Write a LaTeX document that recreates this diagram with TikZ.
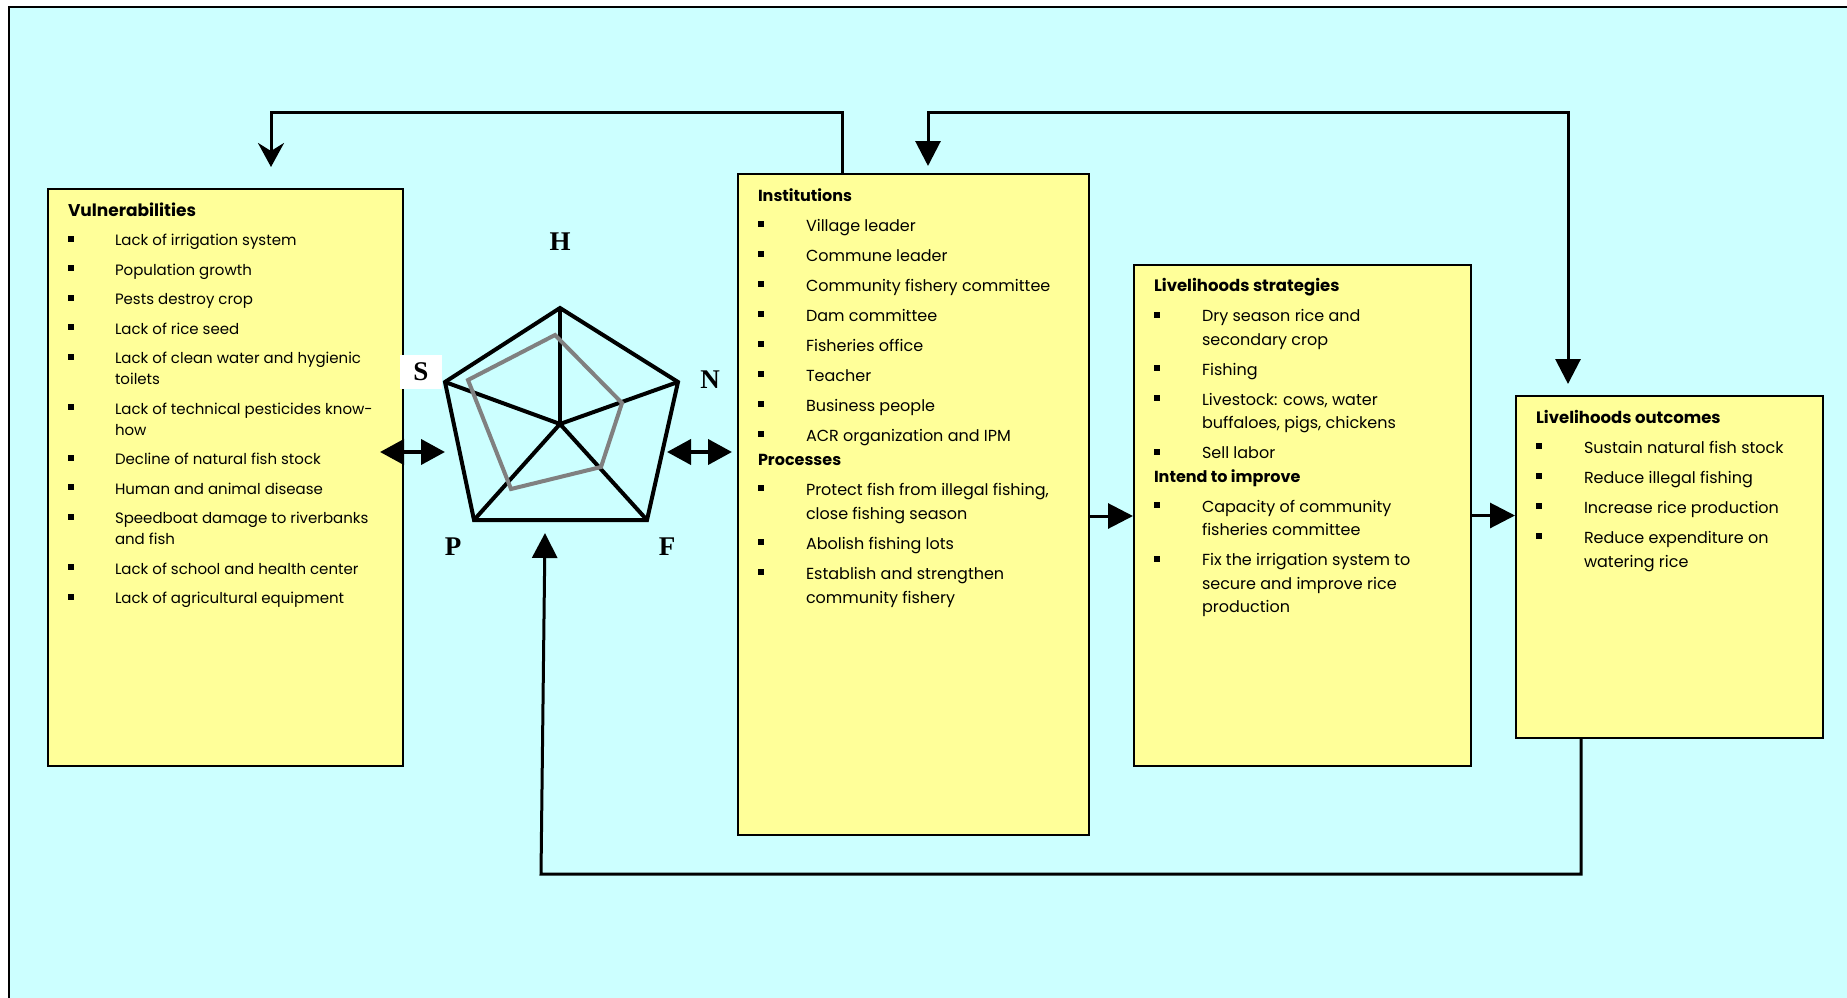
\documentclass[tikz,border=0pt]{standalone}
\usepackage{fontspec}
\setmainfont{Poppins}
\newfontfamily\labfont{Liberation Serif}
\usetikzlibrary{arrows.meta}

\definecolor{bgcyan}{RGB}{204,255,255}
\definecolor{boxyellow}{RGB}{255,255,153}
\definecolor{webgray}{RGB}{128,128,128}

\newcommand{\sq}{\rule[4pt]{6pt}{6pt}}
\newcommand{\panel}[3]{\parbox[t][#2][t]{#1}{#3}}

\begin{document}
\begin{tikzpicture}[x=1pt,y=-1pt,
  box/.style={draw,line width=2pt,fill=boxyellow,anchor=north west,inner xsep=20pt,inner ysep=10.5pt},
  link/.style={line width=3pt},
  tri/.style={-{Triangle[length=25pt,width=25pt]}},
  dbl/.style={line width=4pt,{Triangle[length=24pt,width=25pt]}-{Triangle[length=24pt,width=25pt]}},
  corner label/.style={font=\labfont\bfseries\fontsize{27}{27}\selectfont,inner sep=0pt}]
\useasboundingbox (0,0) rectangle (1847,998);
\fill[white] (0,0) rectangle (1847,998);
\filldraw[fill=bgcyan,draw=black,line width=1.5pt] (9,7) rectangle (1900,1050);

% boxes
\node[box,inner ysep=12.5pt] (vuln) at (47,188) {\panel{315pt}{552pt}{\fontsize{15}{21}\selectfont
\begin{tabular}{@{}p{47pt}@{}l@{}}
\multicolumn{2}{@{}l}{\fontsize{17}{21}\selectfont\bfseries Vulnerabilities}\\[8.5pt]
\sq & Lack of irrigation system\\[8.5pt]
\sq & Population growth\\[8.5pt]
\sq & Pests destroy crop\\[8.5pt]
\sq & Lack of rice seed\\[8.5pt]
\sq & Lack of clean water and hygienic\\
    & toilets\\[8.5pt]
\sq & Lack of technical pesticides know-\\
    & how\\[8.5pt]
\sq & Decline of natural fish stock\\[8.5pt]
\sq & Human and animal disease\\[8.5pt]
\sq & Speedboat damage to riverbanks\\
    & and fish\\[8.5pt]
\sq & Lack of school and health center\\[8.5pt]
\sq & Lack of agricultural equipment
\end{tabular}}};

\node[box] (inst) at (737,173) {\panel{311pt}{640pt}{\fontsize{16}{24}\selectfont
\begin{tabular}{@{}p{48pt}@{}l@{}}
\multicolumn{2}{@{}l}{\bfseries Institutions}\\[6pt]
\sq & Village leader\\[6pt]
\sq & Commune leader\\[6pt]
\sq & Community fishery committee\\[6pt]
\sq & Dam committee\\[6pt]
\sq & Fisheries office\\[6pt]
\sq & Teacher\\[6pt]
\sq & Business people\\[6pt]
\sq & ACR organization and IPM\\
\multicolumn{2}{@{}l}{\bfseries Processes}\\[6pt]
\sq & Protect fish from illegal fishing,\\
    & close fishing season\\[6pt]
\sq & Abolish fishing lots\\[6pt]
\sq & Establish and strengthen\\
    & community fishery
\end{tabular}}};

\node[box] (strat) at (1133,264) {\panel{297pt}{480pt}{\fontsize{16}{23.5}\selectfont
\begin{tabular}{@{}p{48pt}@{}l@{}}
\multicolumn{2}{@{}l}{\fontsize{16.5}{23.5}\selectfont\bfseries Livelihoods strategies}\\[6.5pt]
\sq & Dry season rice and\\
    & secondary crop\\[6.5pt]
\sq & Fishing\\[6.5pt]
\sq & Livestock: cows, water\\
    & buffaloes, pigs, chickens\\[6.5pt]
\sq & Sell labor\\
\multicolumn{2}{@{}l}{\bfseries Intend to improve}\\[6.5pt]
\sq & Capacity of community\\
    & fisheries committee\\[6.5pt]
\sq & Fix the irrigation system to\\
    & secure and improve rice\\
    & production
\end{tabular}}};

\node[box] (outc) at (1515,395) {\panel{267pt}{321pt}{\fontsize{16}{24}\selectfont
\begin{tabular}{@{}p{48pt}@{}l@{}}
\multicolumn{2}{@{}l}{\fontsize{16.5}{24}\selectfont\bfseries Livelihoods outcomes}\\[6pt]
\sq & Sustain natural fish stock\\[6pt]
\sq & Reduce illegal fishing\\[6pt]
\sq & Increase rice production\\[6pt]
\sq & Reduce expenditure on\\
    & watering rice
\end{tabular}}};

% pentagon
\coordinate (h) at (560,308);
\coordinate (n) at (678,382);
\coordinate (f) at (647,520);
\coordinate (p) at (474,520);
\coordinate (s) at (445,382);
\coordinate (c) at (560,424);
\draw[line width=4pt,line join=miter] (h) -- (n) -- (f) -- (p) -- (s) -- cycle;
\foreach \v in {h,n,f,p,s}
  \draw[line width=4pt] (c) -- (\v);
\draw[webgray,line width=4pt] (555,335) -- (622,403) -- (601,467) -- (511,489) -- (468,380) -- cycle;

\node[corner label] (lh) at (560,242) {H};
\node[corner label,fill=white,minimum width=42pt,minimum height=34pt] (ls) at (421,372) {S};
\node[corner label] (ln) at (710,380) {N};
\node[corner label] (lp) at (453,547) {P};
\node[corner label] (lf) at (667,547) {F};

% double arrows
\coordinate (sl) at (380,452);
\coordinate (sr) at (445,452);
\coordinate (nl) at (667,452);
\coordinate (nr) at (732,452);
\draw[dbl] (sl) -- (sr);
\draw[dbl] (nl) -- (nr);

% connectors
\draw[link,-{Stealth[length=24pt,width=26pt,inset=8pt]}] ([xshift=105pt]inst.north west) |- (271,112) -- ([xshift=224pt,yshift=21pt]vuln.north west);
\draw[link,{Triangle[length=25pt,width=25pt]}-{Triangle[length=25pt,width=25pt]}] ([xshift=191pt,yshift=7pt]inst.north west) |- (1568,112) -- ([xshift=53pt,yshift=11pt]outc.north west);
\draw[link,tri] ([yshift=-11.5pt]inst.east) -- ([yshift=-11.5pt]inst.east -| strat.west);
\draw[link,tri] (strat.east) -- (strat.east -| outc.west);
\coordinate (ptip) at (545,533);
\draw[link,tri] ([xshift=66pt]outc.south west) |- (541,874) -- (ptip);
\end{tikzpicture}
\end{document}
